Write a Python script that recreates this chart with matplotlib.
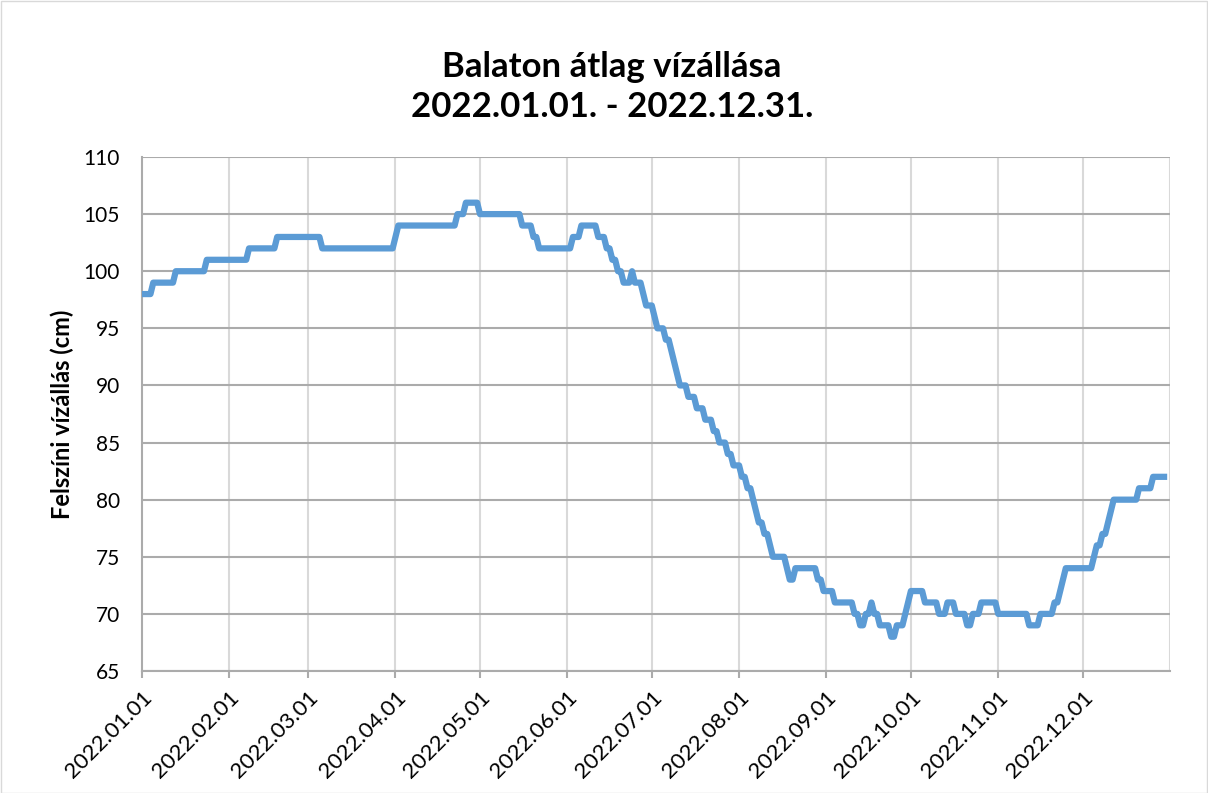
import numpy as np
import pandas as pd
import matplotlib
matplotlib.use("Agg")
import matplotlib.pyplot as plt
import matplotlib.dates as mdates
from matplotlib.patches import Rectangle

# Daily mean water level of Lake Balaton, stored as runs: level (cm) and number of days
levels = [98, 99, 100, 101, 102, 103, 102, 103, 104, 105, 106, 105, 104, 103, 102,
          103, 104, 103, 102, 101, 100, 99, 100, 99, 98, 97, 96, 95, 94, 93, 92, 91,
          90, 89, 88, 87, 86, 85, 84, 83, 82, 81, 80, 79, 78, 77, 76, 75, 74, 73, 74,
          73, 72, 71, 70, 69, 70, 71, 70, 69, 68, 69, 70, 71, 72, 71, 70, 71, 70, 69,
          70, 71, 70, 69, 70, 71, 72, 73, 74, 75, 76, 77, 78, 79, 80, 81, 82]
run_days = [4, 8, 11, 15, 10, 16, 26, 1, 21, 3, 5, 15, 4, 2, 12,
            3, 6, 3, 2, 2, 2, 3, 1, 3, 1, 3, 1, 3, 2, 1, 1, 1,
            3, 3, 3, 3, 2, 3, 2, 3, 2, 2, 1, 1, 2, 2, 1, 5, 1, 2, 8,
            2, 4, 7, 2, 2, 2, 1, 2, 4, 2, 3, 1, 1, 5, 5, 3, 3, 4, 2,
            3, 6, 11, 4, 5, 2, 1, 1, 10, 1, 2, 2, 1, 1, 9, 5, 6]

water_level = np.repeat(levels, run_days)
dates = pd.date_range("2022-01-01", periods=len(water_level), freq="D")

month_ticks = pd.date_range("2022-01-01", "2023-01-01", freq="MS")
title_lines = ["Balaton átlag vízállása", "2022.01.01. - 2022.12.31."]
y_label = "Felszíni vízállás (cm)"

plt.rcParams["font.family"] = ["Lato", "DejaVu Sans"]

fig = plt.figure(figsize=(12.08, 7.93), dpi=100)
ax = fig.add_axes([142 / 1208, 1 - 671 / 793, (1170 - 142) / 1208, (671 - 157) / 793])

ax.plot(dates, water_level, color="#5b9bd5", lw=4.5, solid_joinstyle="round",
        solid_capstyle="butt", zorder=3)

ax.set_xlim(pd.Timestamp("2022-01-01"), pd.Timestamp("2023-01-01"))
ax.set_ylim(65, 110)
ax.set_yticks(np.arange(65, 111, 5))
ax.set_xticks(month_ticks[:-1])
ax.xaxis.set_major_formatter(mdates.DateFormatter("%Y.%m.%d"))

# vertical month lines (light) and horizontal level lines (darker)
for d in month_ticks[1:]:
    ax.axvline(d, color="#d9d9d9", lw=1.5, zorder=1)
ax.grid(axis="y", color="#ababab", lw=1.5, zorder=1)

for side in ("top", "right"):
    ax.spines[side].set_visible(False)
for side in ("bottom", "left"):
    ax.spines[side].set_color("#ababab")
    ax.spines[side].set_linewidth(1.5)

ax.tick_params(axis="y", length=0, pad=16, labelsize=15)
ax.tick_params(axis="x", length=5, width=1.5, color="#ababab", pad=7, labelsize=16)
plt.setp(ax.get_xticklabels(), rotation=45, ha="right", rotation_mode="anchor")

ax.set_ylabel(y_label, fontsize=17, fontweight="bold", labelpad=7)

for text, ypix in zip(title_lines, (77, 117)):
    fig.text(0.5066, 1 - ypix / 793, text, ha="center", va="baseline",
             fontsize=25, fontweight="bold")

# chart-area border
fig.patches.append(Rectangle((0.5 / 1208, 0.5 / 793), 1 - 1.5 / 1208, 1 - 1.5 / 793,
                             transform=fig.transFigure, fill=False,
                             edgecolor="#d9d9d9", lw=1))

fig.savefig("out.png", dpi=100)
